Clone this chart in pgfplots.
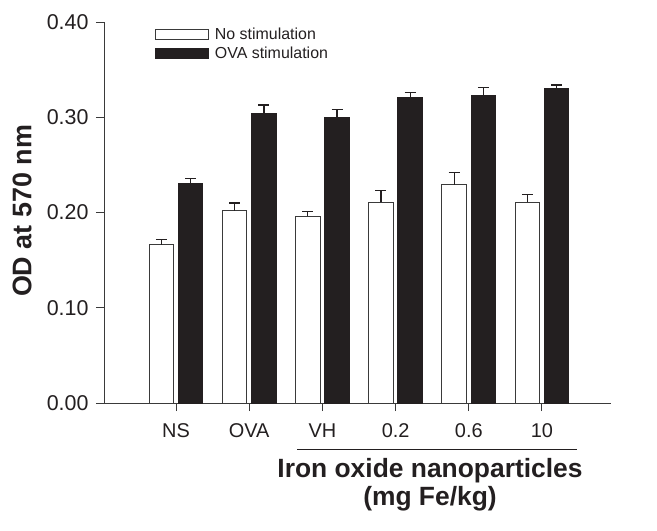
\documentclass[border=0pt]{standalone}
\usepackage{pgfplots}
\pgfplotsset{compat=1.18}
\usepackage{fontspec}
\setmainfont{Liberation Sans}
\definecolor{barblack}{HTML}{231F20}
\definecolor{edgegray}{HTML}{3A3A3A}
\begin{document}
\begin{tikzpicture}
\begin{axis}[
  at={(104bp,-403bp)}, anchor=south west,
  scale only axis, width=507bp, height=381bp,
  xmin=-0.984, xmax=5.943, ymin=0, ymax=0.40,
  axis x line*=bottom, axis y line*=left,
  axis line style={line width=1bp, color=edgegray},
  ytick={0,0.1,0.2,0.3,0.4},
  xtick={0,1,2,3,4,5},
  xticklabels={NS,OVA,VH,0.2,0.6,10},
  tick align=outside, major tick length=8bp,
  tick style={line width=1bp, color=edgegray},
  /pgf/number format/assume math mode=true,
  yticklabel style={/pgf/number format/.cd, fixed, fixed zerofill, precision=2, /tikz/.cd, font=\fontsize{21.5}{24}\selectfont, text=barblack, xshift=-4bp},
  xticklabel style={font=\fontsize{20}{24}\selectfont, text=barblack, yshift=-9bp},
  ylabel={\bfseries OD at 570 nm},
  ylabel style={font=\fontsize{27}{30}\selectfont, text=barblack, at={(axis description cs:-0.1617,0.504)}, anchor=center},
  ybar, bar width=0.335,
  clip=false,
  legend style={draw=none, fill=none, at={(axis description cs:0.10,0.991)}, anchor=north west,
    font=\fontsize{16}{19}\selectfont, text=barblack, row sep=2.5bp, inner sep=0pt,
    nodes={inner sep=2bp}, column sep=4bp},
  legend cell align=left,
  legend image code/.code={\draw[#1, line width=1bp] (0bp,-5bp) rectangle (53bp,5bp);},
  error bars/y dir=plus, error bars/y explicit,
  error bars/error bar style={line width=1.3bp, color=barblack},
  error bars/error mark options={rotate=90, line width=1.3bp, color=barblack, mark size=5.5bp},
]
\addplot[bar shift=-0.2, fill=white, draw=edgegray, line width=1bp]
  coordinates {(0,0.166) +- (0,0.006) (1,0.2016) +- (0,0.0085) (2,0.1963) +- (0,0.005)
               (3,0.211) +- (0,0.012) (4,0.229) +- (0,0.013) (5,0.211) +- (0,0.0077)};
\addlegendentry{No stimulation}
\addplot[bar shift=0.2, fill=barblack, draw=barblack, line width=1bp]
  coordinates {(0,0.230) +- (0,0.0055) (1,0.3037) +- (0,0.0093) (2,0.2996) +- (0,0.0084)
               (3,0.3205) +- (0,0.0053) (4,0.323) +- (0,0.008) (5,0.3304) +- (0,0.0035)};
\addlegendentry{OVA stimulation}
\draw[line width=1bp, color=barblack] (axis cs:1.653,-0.0483) -- (axis cs:5.478,-0.0483);
\node[anchor=base, font=\fontsize{26.5}{30}\selectfont\bfseries, text=barblack] at (axis cs:3.47,-0.0785) {Iron oxide nanoparticles};
\node[anchor=base, font=\fontsize{26.5}{30}\selectfont\bfseries, text=barblack] at (axis cs:3.47,-0.108) {(mg Fe/kg)};
\end{axis}
\path (0,0) rectangle (657bp,-531bp);
\end{tikzpicture}
\end{document}
